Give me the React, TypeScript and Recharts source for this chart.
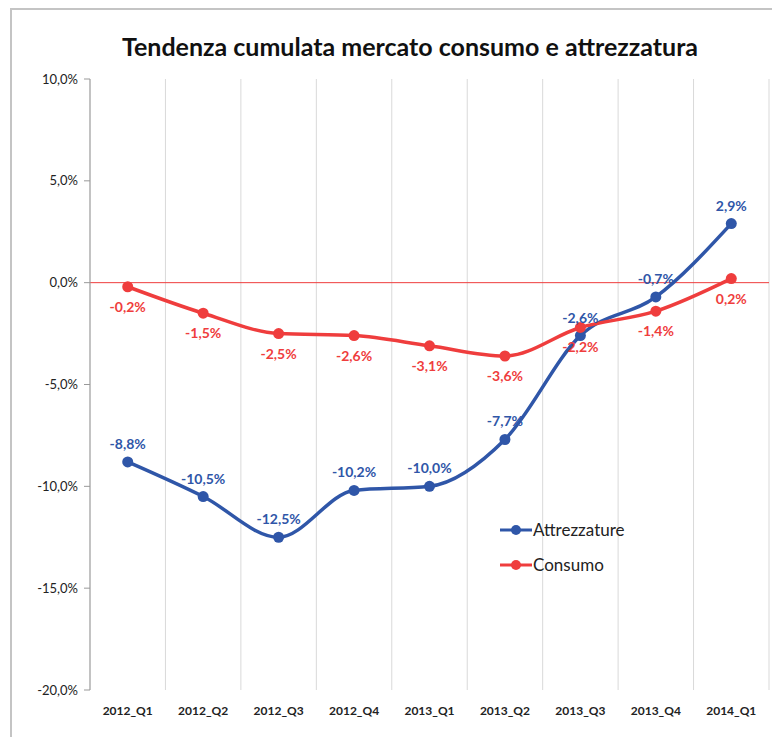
import React from 'react';
import { LineChart, Line, XAxis, YAxis, CartesianGrid, ReferenceLine, LabelList, Legend } from 'recharts';

const quarters = ['2012_Q1', '2012_Q2', '2012_Q3', '2012_Q4', '2013_Q1', '2013_Q2', '2013_Q3', '2013_Q4', '2014_Q1'];
const attrezzature = [-8.8, -10.5, -12.5, -10.2, -10.0, -7.7, -2.6, -0.7, 2.9];
const consumo = [-0.2, -1.5, -2.5, -2.6, -3.1, -3.6, -2.2, -1.4, 0.2];
const yTicks = [-20, -15, -10, -5, 0, 5, 10];

const BLUE = '#2f56a8';
const RED = '#ef3d3d';
const FONT = 'Lato, "Open Sans", sans-serif';

const data = quarters.map((q, i) => ({ q, attrezzature: attrezzature[i], consumo: consumo[i] }));

const pct = (v: number) => `${v.toFixed(1).replace('.', ',')}%`;

const LegendBox = () => (
  <div style={{ fontFamily: FONT, fontSize: 17, color: '#222' }}>
    {[
      { name: 'Attrezzature', color: BLUE },
      { name: 'Consumo', color: RED },
    ].map((s) => (
      <div key={s.name} style={{ display: 'flex', alignItems: 'center', height: 35 }}>
        <svg width={32} height={12} style={{ marginRight: 1 }}>
          <line x1={0} y1={6} x2={32} y2={6} stroke={s.color} strokeWidth={3} />
          <circle cx={16} cy={6} r={5} fill={s.color} />
        </svg>
        <span>{s.name}</span>
      </div>
    ))}
  </div>
);

const App: React.FC = () => {
  return (
    <div style={{ position: 'absolute', left: 0, top: 0, width: 772, height: 737, background: '#fff', overflow: 'hidden' }}>
      <div
        style={{
          position: 'absolute', left: 10, top: 8, width: 780, height: 760,
          borderTop: '2px solid #c4c4c4', borderLeft: '2px solid #c4c4c4',
        }}
      />
      <div
        style={{
          position: 'absolute', left: 0, top: 31, width: 820, textAlign: 'center',
          fontFamily: FONT, fontWeight: 700, fontSize: 25, color: '#111',
        }}
      >
        Tendenza cumulata mercato consumo e attrezzatura
      </div>
      <div style={{ position: 'absolute', left: 0, top: 0 }}>
        <LineChart width={772} height={737} data={data} margin={{ top: 79, right: 3, bottom: 17, left: 0 }}>
          <CartesianGrid
            horizontal={false}
            stroke="#d9d9d9"
            verticalCoordinatesGenerator={({ offset }: any) =>
              Array.from({ length: quarters.length + 1 }, (_, i) => offset.left + (i * offset.width) / quarters.length)
            }
          />
          <XAxis
            dataKey="q"
            scale="band"
            axisLine={false}
            tickLine={false}
            height={30}
            tickMargin={10}
            tick={{ fontFamily: FONT, fontSize: 12, fontWeight: 700, fill: '#222' }}
          />
          <YAxis
            width={90}
            domain={[-20, 10]}
            ticks={yTicks}
            interval={0}
            tickFormatter={pct}
            stroke="#999"
            tickSize={6}
            tickMargin={6}
            tick={{ fontFamily: FONT, fontSize: 13, fill: '#222' }}
          />
          <ReferenceLine y={0} stroke={RED} strokeWidth={1} />
          <Legend
            layout="vertical"
            align="center"
            verticalAlign="middle"
            content={<LegendBox />}
            wrapperStyle={{ left: 500, top: 512, width: 170 }}
          />
          <Line
            type="monotone"
            dataKey="attrezzature"
            name="Attrezzature"
            stroke={BLUE}
            strokeWidth={3.5}
            dot={{ r: 5.5, fill: BLUE, stroke: BLUE, strokeWidth: 0 }}
            activeDot={false}
            isAnimationActive={false}
          >
            <LabelList
              dataKey="attrezzature"
              position="top"
              offset={13}
              formatter={(v: any) => pct(Number(v))}
              style={{ fontFamily: FONT, fontSize: 14, fontWeight: 700, fill: BLUE }}
            />
          </Line>
          <Line
            type="monotone"
            dataKey="consumo"
            name="Consumo"
            stroke={RED}
            strokeWidth={3.5}
            dot={{ r: 5.5, fill: RED, stroke: RED, strokeWidth: 0 }}
            activeDot={false}
            isAnimationActive={false}
          >
            <LabelList
              dataKey="consumo"
              position="bottom"
              offset={15}
              formatter={(v: any) => pct(Number(v))}
              style={{ fontFamily: FONT, fontSize: 14, fontWeight: 700, fill: RED }}
            />
          </Line>
        </LineChart>
      </div>
    </div>
  );
};

export default App;
